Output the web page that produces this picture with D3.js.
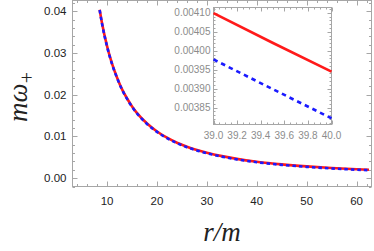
<!DOCTYPE html>
<html><head><meta charset="utf-8">
<script src="https://cdn.jsdelivr.net/npm/d3@7"></script>
<style>body{margin:0;background:#fff}svg{display:block}</style>
</head><body>
<script>
// ---- data ----
const rMain = [8.5, 9, 10, 11, 12, 13, 14, 15, 16, 18, 20, 22, 24, 26, 28, 30, 33, 36, 40, 45, 50, 55, 60, 62.5];
const redMain = [0.0404, 0.0370, 0.0316, 0.0274, 0.0241, 0.0213, 0.0191, 0.0172, 0.0156, 0.0131, 0.0112, 0.0097, 0.0085, 0.00755, 0.00675, 0.00609, 0.00528, 0.00463, 0.00395, 0.00331, 0.00283, 0.00245, 0.00215, 0.00202];
const blueMain = [0.0403, 0.0369, 0.0315, 0.0273, 0.0240, 0.0212, 0.0190, 0.0171, 0.0155, 0.0130, 0.0111, 0.0096, 0.0084, 0.00743, 0.00663, 0.00597, 0.00516, 0.00451, 0.00383, 0.00319, 0.00271, 0.00233, 0.00203, 0.00190];
const rInset = [39.0, 39.5, 40.0];
const redInset = [0.004099, 0.004021, 0.003945];
const blueInset = [0.003977, 0.003899, 0.003822];
const xTicksMain = [10, 20, 30, 40, 50, 60];
const yTicksMain = [0.00, 0.01, 0.02, 0.03, 0.04];
const xTicksInset = [39.0, 39.2, 39.4, 39.6, 39.8, 40.0];
const yTicksInset = [0.00385, 0.00390, 0.00395, 0.00400, 0.00405, 0.00410];

const W = 374, H = 251;
const svg = d3.select("body").append("svg").attr("width", W).attr("height", H);
const frameCol = "#a6a6a6";
const sans = "'Liberation Sans', Arial, sans-serif";
const serif = "'Liberation Serif', 'Times New Roman', serif";

function framedPlot(g, x, y, opt) {
  const [x0, x1] = x.range(), [y0, y1] = y.range();
  const tk = g.append("g").attr("stroke", frameCol).attr("stroke-width", 1);
  const drawX = (vals, len) => vals.forEach(v => {
    const px = Math.round(x(v)) + 0.5;
    tk.append("line").attr("x1", px).attr("x2", px).attr("y1", y0).attr("y2", y0 - len);
    tk.append("line").attr("x1", px).attr("x2", px).attr("y1", y1).attr("y2", y1 + len);
  });
  const drawY = (vals, len) => vals.forEach(v => {
    const py = Math.round(y(v)) + 0.5;
    tk.append("line").attr("y1", py).attr("y2", py).attr("x1", x0).attr("x2", x0 + len);
    tk.append("line").attr("y1", py).attr("y2", py).attr("x1", x1).attr("x2", x1 - len);
  });
  drawX(opt.xMinor, opt.minorLen); drawX(opt.xMajor, opt.majorLen);
  drawY(opt.yMinor, opt.minorLen); drawY(opt.yMajor, opt.majorLen);
  g.append("rect").attr("x", x0).attr("y", y1).attr("width", x1 - x0).attr("height", y0 - y1)
    .attr("fill", "none").attr("stroke", frameCol).attr("stroke-width", 1);
  g.append("g").selectAll("text").data(opt.xMajor).join("text")
    .attr("x", d => x(d)).attr("y", y0 + opt.xLabOff)
    .attr("text-anchor", "middle").attr("font-family", sans).attr("font-size", opt.fs)
    .attr("fill", opt.labCol).text(opt.xFmt);
  g.append("g").selectAll("text").data(opt.yMajor).join("text")
    .attr("x", x0 - opt.yLabOff).attr("y", d => y(d)).attr("dy", "0.35em")
    .attr("text-anchor", "end").attr("font-family", sans).attr("font-size", opt.fs)
    .attr("fill", opt.labCol).text(opt.yFmt);
}

// ---- main plot ----
const x = d3.scaleLinear().domain([3.06, 63.0]).range([72.5, 371.5]);
const y = d3.scaleLinear().domain([-0.0020, 0.0426]).range([186.5, 0.5]);
const gMain = svg.append("g");
const minorX = d3.range(4, 64, 2).filter(v => v % 10 !== 0);
const minorY = d3.range(-0.002, 0.0427, 0.002).filter(v => Math.abs(v * 100 - Math.round(v * 100)) > 1e-6);
framedPlot(gMain, x, y, {
  xMajor: xTicksMain, yMajor: yTicksMain, xMinor: minorX, yMinor: minorY,
  majorLen: 5, minorLen: 2.5, xLabOff: 18, yLabOff: 6, fs: 11.5, labCol: "#222",
  xFmt: d => d3.format("d")(d), yFmt: d => d3.format(".2f")(d)
});
const lineMain = (ys) => d3.line().x((d, i) => x(rMain[i])).y((d) => y(d)).curve(d3.curveMonotoneX)(ys);
gMain.append("path").attr("d", lineMain(redMain)).attr("fill", "none").attr("stroke", "#ff1a1a").attr("stroke-width", 2.6);
gMain.append("path").attr("d", lineMain(blueMain)).attr("fill", "none").attr("stroke", "#1a1aff").attr("stroke-width", 2.6).attr("stroke-dasharray", "3.5,3");

// ---- inset ----
const xi = d3.scaleLinear().domain([39.0, 40.0]).range([213.5, 331.5]);
const yi = d3.scaleLinear().domain([0.0038055, 0.004114]).range([124.5, 7.5]);
const gIn = svg.append("g");
gIn.append("rect").attr("x", 213.5).attr("y", 7.5).attr("width", 118).attr("height", 117).attr("fill", "#fff");
const minorXi = d3.range(0, 21).map(i => 39 + i * 0.05).filter(v => Math.abs(v * 5 - Math.round(v * 5)) > 1e-6);
const minorYi = d3.range(0, 31).map(i => 0.00381 + i * 0.00001).filter(v => Math.abs(v * 20000 - Math.round(v * 20000)) > 1e-6);
framedPlot(gIn, xi, yi, {
  xMajor: xTicksInset, yMajor: yTicksInset, xMinor: minorXi, yMinor: minorYi,
  majorLen: 4, minorLen: 2, xLabOff: 14, yLabOff: 3, fs: 10, labCol: "#8c8c8c",
  xFmt: d => d3.format(".1f")(d), yFmt: d => d3.format(".5f")(d)
});
const lineIn = (ys) => d3.line().x((d, i) => xi(rInset[i])).y(d => yi(d))(ys);
gIn.append("path").attr("d", lineIn(redInset)).attr("fill", "none").attr("stroke", "#ff1a1a").attr("stroke-width", 2.6);
gIn.append("path").attr("d", lineIn(blueInset)).attr("fill", "none").attr("stroke", "#1a1aff").attr("stroke-width", 2.6).attr("stroke-dasharray", "4.5,4");

// ---- axis labels ----
svg.append("text").attr("x", 222).attr("y", 241).attr("text-anchor", "middle")
  .attr("font-family", serif).attr("font-style", "italic")
  .attr("font-size", 27).attr("fill", "#222").text("r/m");
const yl = svg.append("text").attr("transform", "translate(27,97) rotate(-90)").attr("text-anchor", "middle")
  .attr("font-family", serif).attr("font-size", 27).attr("fill", "#222");
yl.append("tspan").attr("font-style", "italic").text("mω");
yl.append("tspan").attr("dy", 7).attr("font-size", 20).text("+");
</script>
</body></html>
